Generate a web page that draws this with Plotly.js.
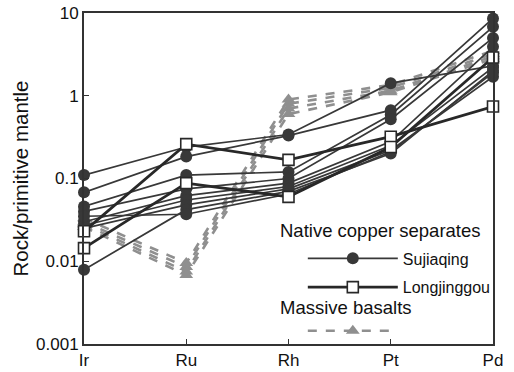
<!DOCTYPE html>
<html>
<head>
<meta charset="utf-8">
<script src="https://cdn.plot.ly/plotly-3.0.1.min.js"></script>
<style>html,body{margin:0;padding:0;background:#fff;}#chart{width:514px;height:372px;}</style>
</head>
<body>
<div id="chart"></div>
<script>
const categories = ["Ir", "Ru", "Rh", "Pt", "Pd"];
const yTickVals = [0.001, 0.01, 0.1, 1, 10];
const yTickText = ["0.001", "0.01", "0.1", "1", "10"];

// Sujiaqing native copper separates (Ir, Ru, Rh, Pt, Pd)
const sujiaqing = [
  [0.110, 0.240, 0.340, 1.42, 2.3],
  [0.068, 0.184, 0.330, 0.67, 8.6],
  [0.046, 0.110, 0.120, 0.59, 6.8],
  [0.040, 0.075, 0.100, 0.52, 5.0],
  [0.030, 0.062, 0.088, 0.28, 3.9],
  [0.027, 0.055, 0.080, 0.25, 2.2],
  [0.025, 0.048, 0.075, 0.22, 1.7],
  [0.0079, 0.042, 0.070, 0.20, 2.0],
  [0.035, 0.037, 0.065, 0.21, 1.9]
];

// Longjinggou native copper separates
const longjinggou = [
  [0.023, 0.260, 0.168, 0.32, 0.74],
  [0.0144, 0.088, 0.060, 0.24, 2.9]
];

// Massive basalts
const basalts = [
  [0.033, 0.0095, 0.90, 1.35, 3.5],
  [0.030, 0.0085, 0.80, 1.25, 3.2],
  [0.028, 0.0075, 0.70, 1.15, 3.0],
  [0.026, 0.0068, 0.60, 1.10, 2.8]
];

const legendHeaders = ["Native copper separates", "Massive basalts"];

const dark = "#383838";
const gray = "#8f8f8f";
const traces = [];

basalts.forEach((row, i) => {
  traces.push({
    x: categories, y: row, type: "scatter", mode: "lines+markers",
    name: "", legend: "legend2", legendgroup: "b",
    showlegend: i === 0, cliponaxis: false,
    line: {color: gray, width: 2.6, dash: "dash"},
    marker: {symbol: "triangle-up", size: 12, color: gray}
  });
});

sujiaqing.forEach((row, i) => {
  traces.push({
    x: categories, y: row, type: "scatter", mode: "lines+markers",
    name: "Sujiaqing", legendgroup: "s", legendrank: 1,
    showlegend: i === 0, cliponaxis: false,
    line: {color: dark, width: 1.7},
    marker: {symbol: "circle", size: 12, color: dark}
  });
});

longjinggou.forEach((row, i) => {
  traces.push({
    x: categories, y: row, type: "scatter", mode: "lines+markers",
    name: "Longjinggou", legendgroup: "l", legendrank: 2,
    showlegend: i === 0, cliponaxis: false,
    line: {color: "#282828", width: 2.8},
    marker: {symbol: "square", size: 11, color: "#ffffff", line: {color: "#282828", width: 1.6}}
  });
});

const layout = {
  width: 514, height: 372,
  margin: {l: 84, r: 21, t: 13, b: 28},
  paper_bgcolor: "#fff", plot_bgcolor: "#fff",
  font: {family: "Liberation Sans, Arial, sans-serif", color: "#111", size: 16},
  showlegend: true,
  legend: {
    x: 0.535, y: 0.31, xanchor: "left", yanchor: "top",
    bgcolor: "rgba(0,0,0,0)", borderwidth: 0,
    itemwidth: 90, traceorder: "grouped", tracegroupgap: 5,
    font: {size: 16, color: "#111"}, itemsizing: "trace"
  },
  legend2: {
    x: 0.535, y: 0.091, xanchor: "left", yanchor: "top",
    bgcolor: "rgba(0,0,0,0)", borderwidth: 0,
    itemwidth: 90, font: {size: 16, color: "#111"}, itemsizing: "trace"
  },
  annotations: [
    {text: legendHeaders[0], xref: "paper", yref: "paper", x: 0.475, y: 0.344,
     xanchor: "left", yanchor: "middle", showarrow: false, font: {size: 18.5, color: "#111"}},
    {text: legendHeaders[1], xref: "paper", yref: "paper", x: 0.475, y: 0.109,
     xanchor: "left", yanchor: "middle", showarrow: false, font: {size: 18.5, color: "#111"}}
  ],
  xaxis: {
    type: "category", range: [0, 4], categoryorder: "array", categoryarray: categories,
    showgrid: false, zeroline: false,
    showline: true, linecolor: "#333", linewidth: 2, mirror: true,
    ticks: "inside", ticklen: 5, tickwidth: 1, tickcolor: "#333",
    tickfont: {size: 17}
  },
  yaxis: {
    type: "log", range: [-3, 1],
    tickvals: yTickVals, ticktext: yTickText,
    showgrid: false, zeroline: false,
    showline: true, linecolor: "#333", linewidth: 2, mirror: true,
    ticks: "inside", ticklen: 5, tickwidth: 1, tickcolor: "#333",
    tickfont: {size: 17},
    title: {text: "Rock/primitive mantle", font: {size: 20.5}, standoff: 2}
  }
};

Plotly.newPlot("chart", traces, layout, {displayModeBar: false, staticPlot: true});
</script>
</body>
</html>
